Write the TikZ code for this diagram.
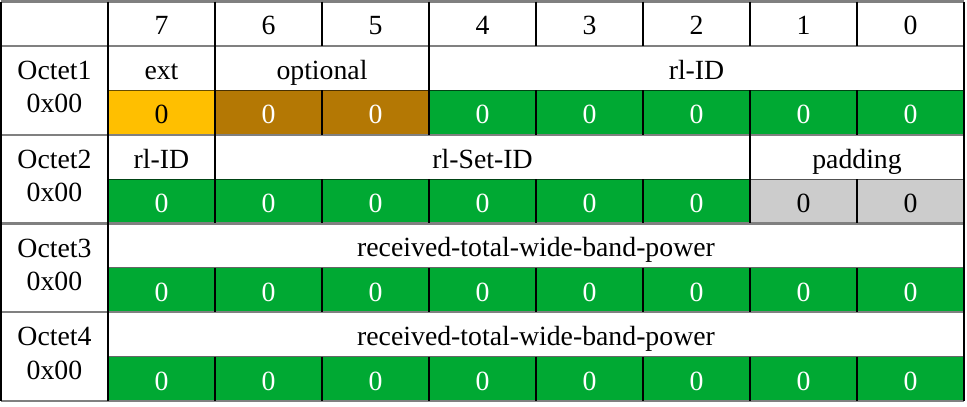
\documentclass[tikz,border=0pt]{standalone}
\usepackage{fontspec}
\setmainfont{Liberation Serif}
\definecolor{bitgreen}{HTML}{00A933}
\definecolor{bitgold}{HTML}{FFBF00}
\definecolor{bitbrown}{HTML}{B47804}
\definecolor{bitgrey}{HTML}{CCCCCC}
\definecolor{rulegrey}{HTML}{808080}

\begin{document}
\begin{tikzpicture}[x=2.831cm,y=-1.1745cm,txt/.style={font=\fontsize{20.9}{25}\selectfont, inner sep=0pt},lbl/.style={txt, text height=17pt, text depth=0pt},bit/.style={lbl, minimum width=2.831cm, minimum height=1.1745cm, outer sep=0pt, fill=bitgreen, text=white},grp/.style={draw=rulegrey, line width=1.6pt},sep/.style={draw=black, line width=0.8pt},mid/.style={draw=black, opacity=0.6, line width=0.8pt}]
\useasboundingbox (-0.0093,-0.034) rectangle (9.028,9.113);
% bit numbers
\foreach \b [count=\i] in {7,...,0} \node[lbl] (hd\b) at (\i+0.5,0.5) {\b};
\foreach \o in {1,...,4} \node[txt, align=center] (oct\o) at (0.5,{2*\o-0.07}) {Octet\o\\0x00};
% field names
\node[lbl] (ext) at (1.5,1.5) {ext}; \node[lbl] (opt) at (3,1.5) {optional}; \node[lbl] (rlid) at (6.5,1.5) {rl-ID};
\node[lbl] (rlidb) at (1.5,3.5) {rl-ID}; \node[lbl] (rlset) at (4.5,3.5) {rl-Set-ID}; \node[lbl] (pad) at (8,3.5) {padding};
\node[lbl] (rtwbp) at (5,5.5) {received-total-wide-band-power}; \node[lbl] (rtwbpb) at (5,7.5) {received-total-wide-band-power};
% bit values
\foreach \b/\f/\t [count=\i] in {7/bitgold/black,6/bitbrown/white,5/bitbrown/white,4/bitgreen/white,3/bitgreen/white,2/bitgreen/white,1/bitgreen/white,0/bitgreen/white}
  \node[bit, fill=\f, text=\t] (va\b) at (\i+0.5,2.5) {0};
\foreach \b/\f/\t [count=\i] in {7/bitgreen/white,6/bitgreen/white,5/bitgreen/white,4/bitgreen/white,3/bitgreen/white,2/bitgreen/white,1/bitgrey/black,0/bitgrey/black}
  \node[bit, fill=\f, text=\t] (vb\b) at (\i+0.5,4.5) {0};
\foreach \o/\y in {c/6.5,d/8.5} \foreach \b [count=\i] in {7,...,0} \node[bit] (v\o\b) at (\i+0.5,\y) {0};
% rules
\foreach \y in {0,1,3,5,7,9} \draw[grp] (0,\y) -- (9,\y);
\foreach \y in {2,4,6,8} \draw[mid] (1,\y) -- (9,\y);
\foreach \x in {0,1,9} \draw[sep] (\x,0) -- (\x,9);
\foreach \x in {2,...,8} {\draw[sep] (\x,0) -- (\x,1); \foreach \y in {2,4,6,8} \draw[sep] (\x,\y) -- (\x,\y+1);}
\draw[sep] (2,1) -- (2,2) (4,1) -- (4,2) (2,3) -- (2,4) (7,3) -- (7,4);
\end{tikzpicture}
\end{document}
